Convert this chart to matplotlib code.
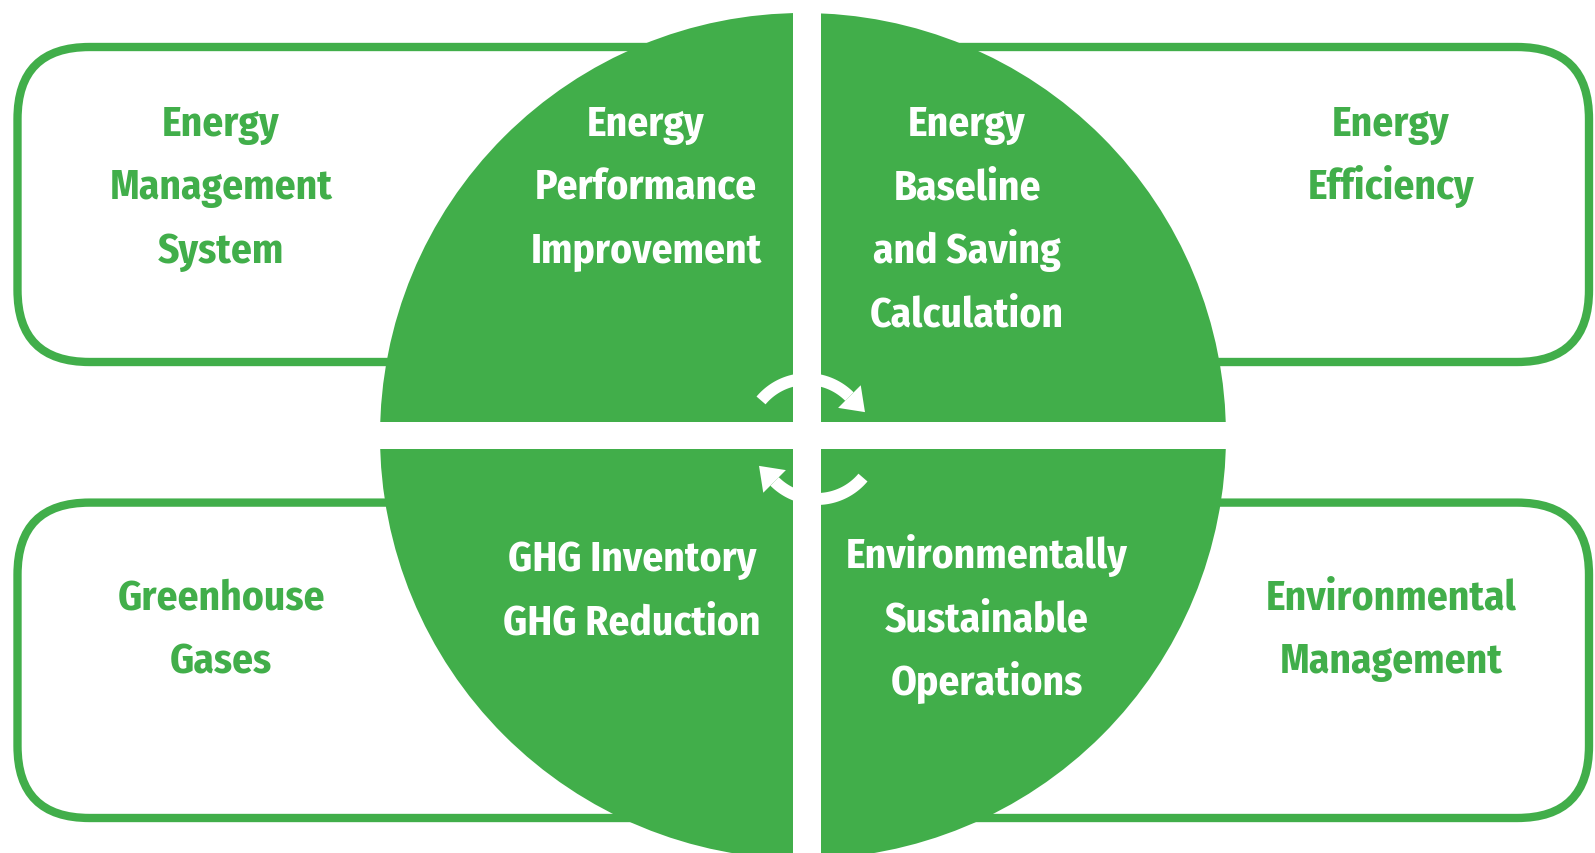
import numpy as np
import matplotlib
matplotlib.use('Agg')
from matplotlib import pyplot as plt
from matplotlib.patches import Circle, FancyBboxPatch, Rectangle, Polygon

GREEN = '#41ae4a'
FONT = ['Fira Sans Condensed', 'PT Sans Narrow', 'Roboto Condensed',
        'Asap Condensed', 'DejaVu Sans']

# outer boxes: label lines, text centre x, first baseline y
box_labels = [
    ['Energy', 'Management', 'System'],
    ['Energy', 'Efficiency'],
    ['Greenhouse', 'Gases'],
    ['Environmental', 'Management'],
]
box_text_x = [221, 1391, 221, 1391]
box_text_y = [136, 136, 610, 610]

# quadrants of the circle
quad_labels = [
    ['Energy', 'Performance', 'Improvement'],
    ['Energy', 'Baseline', 'and Saving', 'Calculation'],
    ['GHG Inventory', 'GHG Reduction'],
    ['Environmentally', 'Sustainable', 'Operations'],
]
quad_text_x = [646, 967, 632, 987]
quad_text_y = [136, 136, 571, 568]

LINE_STEP = 63.5
W, H = 1595, 854


def draw_arc_arrow(ax, cx, cy, r, a_start, a_end):
    th = np.radians(np.linspace(a_start, a_end, 60))
    ax.plot(cx + r * np.cos(th), cy - r * np.sin(th), color='white',
            lw=8.6, solid_capstyle='butt', zorder=4)
    te = np.radians(a_end)
    px, py = cx + r * np.cos(te), cy - r * np.sin(te)
    nx, ny = np.cos(te), -np.sin(te)
    tx, ty = np.sin(te), np.cos(te)
    hw, hl = 16, 22
    head = [(px + nx * hw, py + ny * hw), (px - nx * hw, py - ny * hw),
            (px + tx * hl, py + ty * hl)]
    ax.add_patch(Polygon(head, closed=True, color='white', lw=0, zorder=4))


def fit_fontsize(fig, ax, text, target_px, base=32):
    # scale the font so that one reference word spans target_px
    t = ax.text(0, 0, text, fontsize=base, fontweight='bold', family=FONT)
    w = t.get_window_extent(renderer=fig.canvas.get_renderer()).width
    t.remove()
    return base * target_px / w


def main():
    fig = plt.figure(figsize=(W / 100, H / 100), dpi=100)
    ax = fig.add_axes([0, 0, 1, 1])
    ax.set_xlim(0, W)
    ax.set_ylim(H, 0)
    ax.set_aspect('equal')
    ax.axis('off')

    fs = fit_fontsize(fig, ax, 'Management', 223)

    # rounded outline boxes (their inner ends hide under the circle)
    for x0, x1 in [(17.5, 800), (810, 1589)]:
        for y0, y1 in [(48, 363), (503.6, 819)]:
            ax.add_patch(FancyBboxPatch((x0, y0), x1 - x0, y1 - y0,
                                        boxstyle='round,pad=0,rounding_size=72',
                                        fc='white', ec=GREEN, lw=6, zorder=1))

    ax.add_patch(Circle((803, 437), 423, color=GREEN, lw=0, zorder=2))

    # white cross splitting the circle
    ax.add_patch(Rectangle((793.3, -10), 28, H + 20, color='white', lw=0, zorder=3))
    ax.add_patch(Rectangle((-10, 422.7), W + 20, 27.3, color='white', lw=0, zorder=3))

    draw_arc_arrow(ax, 807, 440, 60, 140, 45)
    draw_arc_arrow(ax, 817, 440, 60, -40, -135)

    for lines, x, y in zip(box_labels, box_text_x, box_text_y):
        for i, s in enumerate(lines):
            ax.text(x, y + i * LINE_STEP, s, ha='center', va='baseline',
                    color=GREEN, fontsize=fs, fontweight='bold', family=FONT,
                    zorder=5)
    for lines, x, y in zip(quad_labels, quad_text_x, quad_text_y):
        for i, s in enumerate(lines):
            ax.text(x, y + i * LINE_STEP, s, ha='center', va='baseline',
                    color='white', fontsize=fs, fontweight='bold', family=FONT,
                    zorder=5)

    fig.savefig('out.png', dpi=100)


if __name__ == "__main__":
    main()
